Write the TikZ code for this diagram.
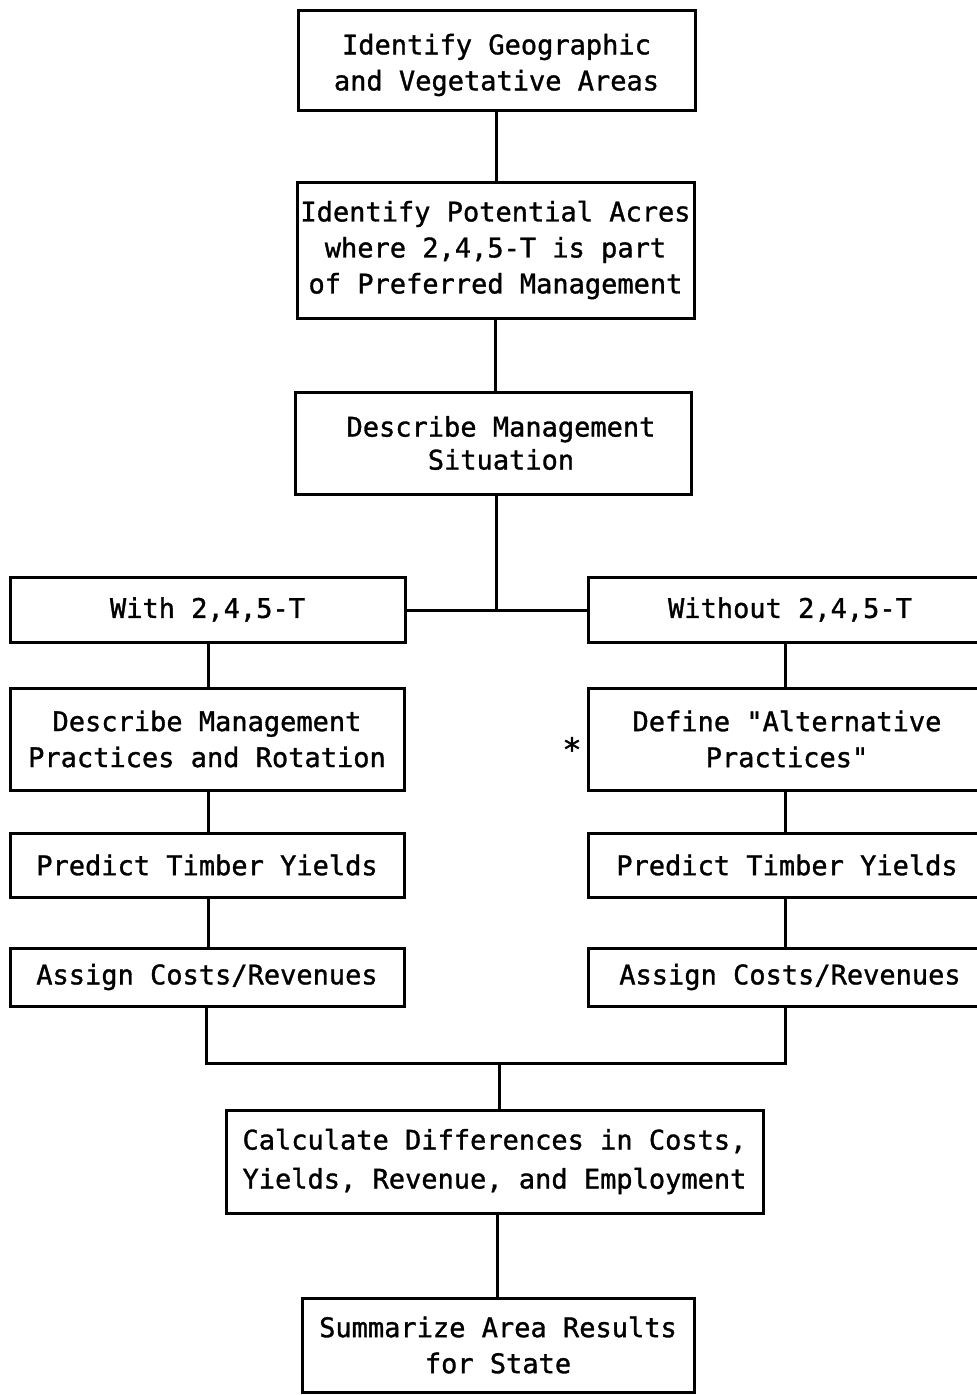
\documentclass[tikz,border=0pt]{standalone}
\usepackage{fontspec}
\setmonofont[FakeBold=1.2]{DejaVu Sans Mono}
\begin{document}
\begin{tikzpicture}[x=1pt,y=-1pt,
  txt/.style={inner sep=0pt,align=center,font=\ttfamily\fontsize{27}{36}\selectfont},
  box/.style={txt,draw=black,line width=3pt,minimum width=#1},
  link/.style={draw=black,line width=3pt}]
\useasboundingbox (0,0) rectangle (977,1395);
\node[box=397pt,minimum height=100pt] (b1) at (496.5,60) {};
\node[txt] (b1t) at (496.5,65) {Identify Geographic\\and Vegetative Areas};
\node[box=397pt,minimum height=136pt] (b2) at (495.5,250) {Identify Potential Acres\\where 2,4,5-T is part\\of Preferred Management};
\node[box=396pt,minimum height=102pt] (b3) at (493,443) {\hspace*{16pt}Describe Management\\[-3pt]\hspace*{16pt}Situation};
\node[box=395pt,minimum height=65pt] (b4) at (207.5,609.5) {With 2,4,5-T};
\node[box=398pt,minimum height=65pt] (b5) at (787,609.5) {\hspace*{6pt}Without 2,4,5-T};
\node[box=394pt,minimum height=102pt] (b6) at (207,739) {Describe Management\\Practices and Rotation};
\node[box=398pt,minimum height=102pt] (b7) at (787,739) {Define "Alternative\\Practices"};
\node[box=394pt,minimum height=64pt] (b8) at (207,865) {Predict Timber Yields};
\node[box=398pt,minimum height=64pt] (b9) at (787,865) {Predict Timber Yields};
\node[box=394pt,minimum height=58pt] (b10) at (207,977) {Assign Costs/Revenues};
\node[box=398pt,minimum height=58pt] (b11) at (787,977) {\hspace*{6pt}Assign Costs/Revenues};
\node[box=537pt,minimum height=103pt] (b12) at (494.5,1161.5) {Calculate Differences in Costs,\\[3pt]Yields, Revenue, and Employment};
\node[box=392pt,minimum height=94pt] (b13) at (498,1345) {Summarize Area Results\\for State};
\node[inner sep=0pt,font=\ttfamily\fontsize{32}{36}\selectfont] (star) at (572,749) {*};
\coordinate (j1) at (496,610);
\coordinate (j2) at (499,1063);
\draw[link] (b1.south) -- (b1.south |- b2.north);
\draw[link] (b2.south) -- (b2.south |- b3.north);
\draw[link] (b3.south -| j1) -- (j1);
\draw[link] (b4.east |- j1) -- (b5.west |- j1);
\draw[link] (b4.south -| 208,0) -- (b6.north -| 208,0);
\draw[link] (b6.south -| 208,0) -- (b8.north -| 208,0);
\draw[link] (b8.south -| 208,0) -- (b10.north -| 208,0);
\draw[link] (b5.south -| 785,0) -- (b7.north -| 785,0);
\draw[link] (b7.south -| 785,0) -- (b9.north -| 785,0);
\draw[link] (b9.south -| 785,0) -- (b11.north -| 785,0);
\draw[link] (b10.south -| 206,0) |- (j2) -| (b11.south -| 785,0);
\draw[link] (j2) -- (b12.north -| j2);
\draw[link] (b12.south -| 497,0) -- (b13.north -| 497,0);
\end{tikzpicture}
\end{document}
